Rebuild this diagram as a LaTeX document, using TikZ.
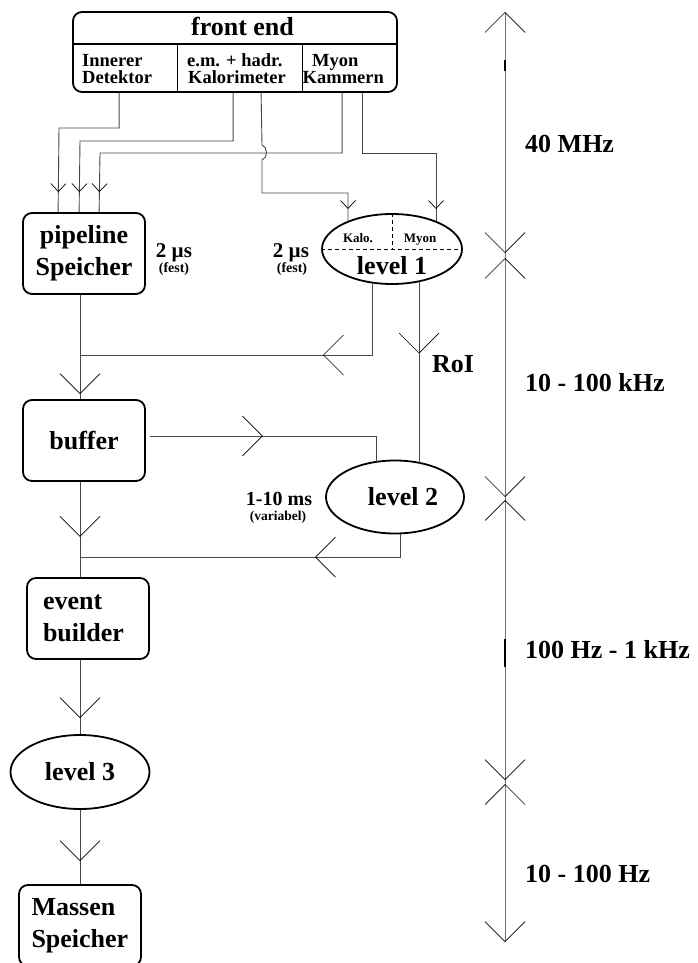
\documentclass[tikz,border=0pt]{standalone}
\usepackage{fontspec}
\setmainfont{Liberation Serif}
\usetikzlibrary{arrows.meta,shapes.geometric,decorations.markings,calc}
\newcommand\bfs[2]{\fontsize{#1}{#2}\selectfont\bfseries}
\begin{document}
\begin{tikzpicture}[x=1pt,y=-1pt,
  box/.style={draw, line width=1.8pt, rounded corners=9pt, minimum width=122pt, minimum height=81pt, inner sep=0pt, font=\bfs{26}{32}, align=center},
  ell/.style={draw, ellipse, line width=1.8pt, inner sep=0pt, font=\bfs{26}{32}},
  conn/.style={draw=black!72, line width=0.9pt},
  txt/.style={inner sep=0pt, font=\bfs{26}{32}},
  small/.style={inner sep=0pt, font=\bfs{18.5}{15}, anchor=base west},
  bigV/.style={postaction={decorate, decoration={markings, mark=at position #1 with {\arrow[black, line width=0.7pt]{Straight Barb[length=20pt, width=40pt]}}}}},
  smallV/.style={postaction={decorate, decoration={markings, mark=at position #1 with {\arrow[black, line width=0.7pt]{Straight Barb[length=8pt, width=15pt]}}}}},
]
\useasboundingbox (0,0) rectangle (698,963);

% front end
\node[box, minimum width=324pt, minimum height=80pt] (fe) at (235,52) {};
\node[txt, anchor=base] (fetitle) at (242.5,36) {front end};
\draw[line width=1.3pt] (73,44) -- (397,44);
\draw[line width=0.9pt] (177,44) -- (177,92);
\draw[line width=0.9pt] (302,44) -- (302,92);
\node[small] (det1) at (82,66.5) {Innerer};
\node[small] (det2) at (82,84) {Detektor};
\node[small] (kal1) at (187,66.5) {e.m. + hadr.};
\node[small] (kal2) at (188,84) {Kalorimeter};
\node[small] (myo1) at (312,66.5) {Myon};
\node[small] (myo2) at (302.5,84) {Kammern};

% boxes and ellipses
\node[box] (pipe) at (84,253.5) {pipeline\\Speicher};
\node[box] (buf) at (84,440.5) {buffer};
\node[box, align=left, text width=90pt, inner xsep=16pt] (eb) at (88,618.5) {event\\builder};
\node[box, align=left, text width=97pt, inner xsep=12.5pt] (mass) at (80,925.5) {Massen\\Speicher};

\node[ell, minimum width=140pt, minimum height=70pt] (l1) at (392,249) {};
\draw[dashed, dash pattern=on 4pt off 3pt, line width=0.8pt] (l1.west) -- (l1.east);
\draw[dashed, dash pattern=on 4pt off 3pt, line width=0.8pt] (l1.north) -- (l1.center);
\node[inner sep=0pt, font=\bfs{13}{15}, anchor=base] (kalo) at (358,242) {Kalo.};
\node[inner sep=0pt, font=\bfs{13}{15}, anchor=base] (myon) at (420,242) {Myon};
\node[txt, anchor=base] (l1t) at (392,274) {level 1};

\node[ell, minimum width=138pt, minimum height=73pt] (l2) at (395,497) {\hspace*{16pt}level 2};
\node[ell, minimum width=139pt, minimum height=74pt] (l3) at (80,772) {level 3};

% labels
\node[inner sep=0pt, font=\bfs{21}{24}, anchor=base] (t1) at (174,257) {2 µs};
\node[inner sep=0pt, font=\bfs{14}{16}, anchor=base] (f1) at (174,272) {(fest)};
\node[inner sep=0pt, font=\bfs{21}{24}, anchor=base] (t2) at (291,257) {2 µs};
\node[inner sep=0pt, font=\bfs{14}{16}, anchor=base] (f2) at (292,272) {(fest)};
\node[inner sep=0pt, font=\bfs{20}{24}, anchor=base] (t3) at (279,505) {1-10 ms};
\node[inner sep=0pt, font=\bfs{13.5}{16}, anchor=base] (f3) at (278,520) {(variabel)};
\node[txt, anchor=base west] (roi) at (432,372) {RoI};

% frequency axis
\coordinate (atop) at (505,12);
\coordinate (abot) at (505,942);
\draw[draw=black!55, line width=0.9pt,
  {Straight Barb[black, line width=0.7pt, length=20pt, width=40pt]}-{Straight Barb[black, line width=0.7pt, length=20pt, width=40pt]},
  postaction={decorate, decoration={markings,
    mark=at position 241pt with {\arrow[black, line width=0.7pt]{Straight Barb[length=20pt, width=40pt]}},
    mark=at position 246pt with {\arrowreversed[black, line width=0.7pt]{Straight Barb[length=20pt, width=40pt]}},
    mark=at position 485pt with {\arrow[black, line width=0.7pt]{Straight Barb[length=20pt, width=40pt]}},
    mark=at position 488pt with {\arrowreversed[black, line width=0.7pt]{Straight Barb[length=20pt, width=40pt]}},
    mark=at position 768pt with {\arrow[black, line width=0.7pt]{Straight Barb[length=20pt, width=40pt]}},
    mark=at position 772pt with {\arrowreversed[black, line width=0.7pt]{Straight Barb[length=20pt, width=40pt]}}}}]
  (atop) -- (abot);
\draw[line width=2pt] (505,60) -- (505,71);
\draw[line width=2pt] (505,639) -- (505,667);
\node[txt, anchor=base west] (r1) at (525,153) {40 MHz};
\node[txt, anchor=base west] (r2) at (525,391) {10 - 100 kHz};
\node[txt, anchor=base west] (r3) at (525,658) {100 Hz - 1 kHz};
\node[txt, anchor=base west] (r4) at (525,882) {10 - 100 Hz};

% connectors
\coordinate (j1) at (80,355);
\coordinate (j2) at (80,557);
\draw[conn, smallV=-20pt] ([xshift=47pt]fe.south west) |- (59,128) -- ([xshift=36pt]pipe.north west);
\draw[conn, smallV=-20pt] ([xshift=161pt]fe.south west) |- (80,141) -- ([xshift=57pt]pipe.north west);
\draw[conn, smallV=-20pt] ([xshift=270pt]fe.south west) |- (100,153) -- ([xshift=77pt]pipe.north west);
\draw[conn, smallV=-12pt] ([xshift=189pt]fe.south west) -- (262,145) .. controls (268,147) and (268,158) .. (262,160) |- (348,193) -- ($(l1.center)+(-44,-28)$);
\draw[conn, smallV=-12pt] ([xshift=290pt]fe.south west) |- (436,153) -- ($(l1.center)+(44,-28)$);
\draw[conn, bigV=-243pt] ($(l1.center)+(-20,34)$) |- (j1);
\draw[conn, bigV=72pt] ($(l1.center)+(27,32.5)$) -- ($(l2.center)+(24,-34)$);
\draw[conn, bigV=-5pt] ([xshift=-4pt]pipe.south) -- ([xshift=-4pt]buf.north);
\draw[conn, bigV=113pt] ([shift={(4,-4.5)}]buf.east) -| ($(l2.center)+(-19,-35)$);
\draw[conn, bigV=55pt] ([xshift=-4pt]buf.south) -- ([xshift=-8pt]eb.north);
\draw[conn, bigV=-235pt] ($(l2.center)+(5,37)$) |- (j2);
\draw[conn, bigV=-16pt] ([xshift=-8pt]eb.south) -- (l3.north);
\draw[conn, bigV=-23pt] (l3.south) -- (mass.north);
\end{tikzpicture}
\end{document}
